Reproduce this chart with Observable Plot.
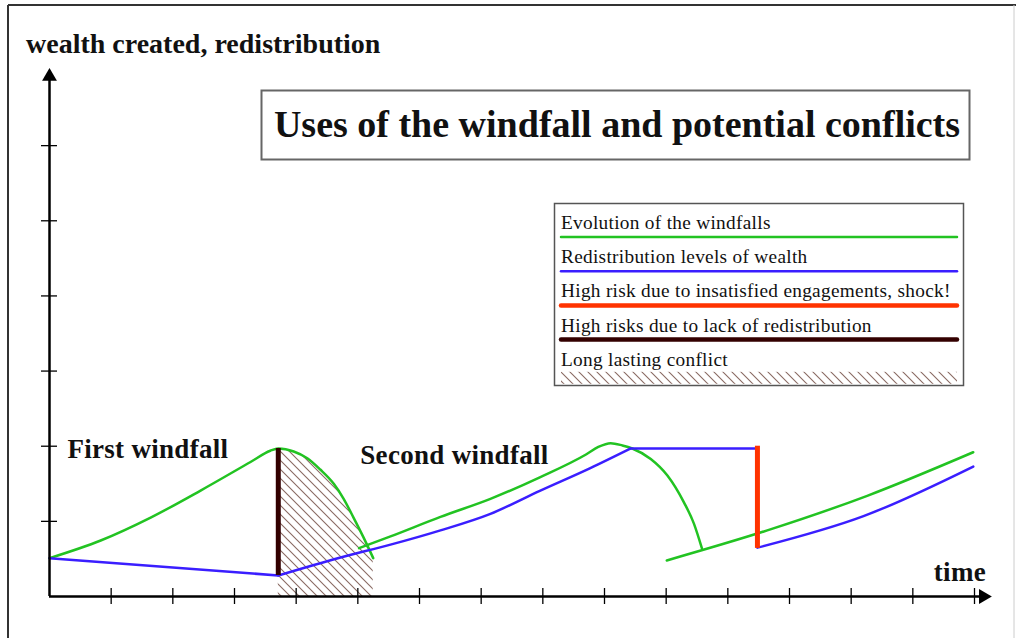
<!DOCTYPE html>
<html>
<head>
<meta charset="utf-8">
<script src="https://cdn.jsdelivr.net/npm/d3@7"></script>
<script src="https://cdn.jsdelivr.net/npm/@observablehq/plot@0.6"></script>
<style>
  body { margin: 0; background: #fff; }
  #wrap { position: relative; width: 1016px; height: 638px; overflow: hidden; background: #fff; }
  #wrap svg { position: absolute; left: 0; top: 0; }
  #overlay { pointer-events: none; }
</style>
</head>
<body>
<div id="wrap"></div>
<script>
// ---------- data (x: time ticks, y: wealth ticks) ----------
const xTicks = [1, 2, 3, 4, 5, 6, 7, 8, 9, 10, 11, 12, 13, 14, 15];
const yTicks = [1, 2, 3, 4, 5, 6];

// evolution of the windfalls (green), three pieces
const greenFirst = [[0,0.51],[0.83,0.745],[1.64,1.05],[2.45,1.41],[3.26,1.79],[3.58,1.94],[3.71,1.97],[3.96,1.93],[4.18,1.84],[4.39,1.69],[4.61,1.50],[4.77,1.30],[4.93,1.05],[5.09,0.79],[5.25,0.51]];
const greenSecond = [[5.02,0.643],[5.53,0.80],[6.34,1.06],[7.15,1.30],[7.96,1.59],[8.70,1.89],[8.90,1.99],[9.10,2.04],[9.29,2.01],[9.45,1.97],[9.75,1.83],[10.02,1.61],[10.29,1.25],[10.45,0.97],[10.58,0.64]];
const greenThird = [[10.01,0.48],[11.64,0.88],[13.26,1.34],[14.98,1.92]];

// redistribution levels of wealth (blue)
const blueFirst = [[0,0.51],[3.71,0.28]];
const blueSecond = [[3.71,0.28],[4.72,0.52],[5.53,0.69],[6.34,0.88],[7.15,1.10],[7.96,1.41],[8.77,1.71],[9.42,1.97]];
const blueHold = [[9.42,1.97],[11.48,1.97]];
const blueThird = [[11.48,0.65],[13.2,1.07],[14.98,1.73]];

// risk markers
const lackOfRedistribution = [{x: 3.71, y1: 0.28, y2: 1.97}];
const shock = [{x: 11.48, y1: 0.64, y2: 2.0}];

// long lasting conflict: hatched zone under the falling windfall
const conflictStart = 3.71;

const annotations = [
  {text: "First windfall", x: 0.29, y: 1.84},
  {text: "Second windfall", x: 5.04, y: 1.76},
  {text: "time", x: 14.34, y: 0.21}
];

const legendItems = [
  {label: "Evolution of the windfalls", kind: "line", color: "#22c322", width: 2.5},
  {label: "Redistribution levels of wealth", kind: "line", color: "#3a1eff", width: 2.5},
  {label: "High risk due to insatisfied engagements, shock!", kind: "line", color: "#ff3300", width: 4.5},
  {label: "High risks due to lack of redistribution", kind: "line", color: "#330000", width: 4.5},
  {label: "Long lasting conflict", kind: "hatch"}
];

const titleText = "Uses of the windfall and potential conflicts";
const yLabelText = "wealth created, redistribution";

// ---------- build tables ----------
const toRows = (pts, seg) => pts.map(([x, y]) => ({x, y, seg}));
const green = [...toRows(greenFirst, "g1"), ...toRows(greenSecond, "g2"), ...toRows(greenThird, "g3")];
const blueCurves = [...toRows(blueSecond, "b2"), ...toRows(blueThird, "b3")];
const blueStraight = [...toRows(blueFirst, "b1"), ...toRows(blueHold, "bh")];
const hatch = toRows(greenFirst.filter(([x]) => x >= conflictStart), "h");

const GREEN = legendItems[0].color, BLUE = legendItems[1].color, RED = legendItems[2].color, DARK = legendItems[3].color;
const FONT = "'Liberation Serif', 'Times New Roman', serif";

const chart = Plot.plot({
  width: 1016,
  height: 638,
  marginLeft: 49,
  marginRight: 42,
  marginTop: 70,
  marginBottom: 42,
  style: {fontFamily: FONT, overflow: "visible", background: "transparent"},
  x: {domain: [0, 15], axis: null},
  y: {domain: [0, 7], axis: null},
  marks: [
    Plot.areaY(hatch, {x: "x", y: "y", fill: "url(#hatch)", curve: "monotone-x"}),
    Plot.line(green, {x: "x", y: "y", z: "seg", stroke: GREEN, strokeWidth: 2.5, curve: "monotone-x"}),
    Plot.line(blueCurves, {x: "x", y: "y", z: "seg", stroke: BLUE, strokeWidth: 2.5, curve: "monotone-x"}),
    Plot.line(blueStraight, {x: "x", y: "y", z: "seg", stroke: BLUE, strokeWidth: 2.5, curve: "linear"}),
    Plot.ruleX(lackOfRedistribution, {x: "x", y1: "y1", y2: "y2", stroke: DARK, strokeWidth: 5}),
    Plot.ruleX(shock, {x: "x", y1: "y1", y2: "y2", stroke: RED, strokeWidth: 5}),
    // axes
    Plot.ruleX([0], {y1: 0, y2: 6.9, stroke: "#000", strokeWidth: 2.5}),
    Plot.ruleY([0], {x1: 0, x2: 15.15, stroke: "#000", strokeWidth: 2.5}),
    Plot.ruleX(xTicks, {x: d => d, y1: 0, y2: 0, insetTop: -8, insetBottom: -8, stroke: "#000", strokeWidth: 1.3}),
    Plot.ruleY(yTicks, {y: d => d, x1: 0, x2: 0, insetLeft: -8, insetRight: -8, stroke: "#000", strokeWidth: 1.3}),
    Plot.dot([{x: 0, y: 7}], {x: "x", y: "y", symbol: "triangle", r: 5.5, fill: "#000", stroke: null, dy: 6, rotate: 0}),
    Plot.dot([{x: 15.24, y: 0}], {x: "x", y: "y", symbol: "triangle", r: 5.5, fill: "#000", stroke: null, dx: -6, rotate: 90}),
    Plot.text(annotations, {x: "x", y: "y", text: "text", textAnchor: "start", lineAnchor: "bottom", fontSize: 27, fontWeight: "bold", fill: "#111", fontFamily: FONT})
  ]
});
document.getElementById("wrap").appendChild(chart);
d3.select(chart).selectAll("text").attr("letter-spacing", 0.3);

// hatch pattern for the conflict zone
function addHatch(svgSel, id) {
  const p = svgSel.insert("defs", ":first-child").append("pattern")
    .attr("id", id).attr("patternUnits", "userSpaceOnUse")
    .attr("width", 9).attr("height", 9);
  p.append("path").attr("d", "M-2,-2L11,11M-2,7L2,11M7,-2L11,2")
    .attr("stroke", "#8a6a62").attr("stroke-width", 1.1).attr("fill", "none");
}
addHatch(d3.select(chart), "hatch");

// ---------- overlay: frame, title box, axis label, legend ----------
const ov = d3.select("#wrap").append("svg").attr("id", "overlay")
  .attr("width", 1016).attr("height", 638).style("font-family", FONT);
addHatch(ov, "hatchLegend");

ov.append("line").attr("x1", 8).attr("y1", 5).attr("x2", 8).attr("y2", 640).attr("stroke", "#333").attr("stroke-width", 2);
ov.append("line").attr("x1", 8).attr("y1", 5).attr("x2", 1016).attr("y2", 5).attr("stroke", "#333").attr("stroke-width", 2);
ov.append("line").attr("x1", 1014).attr("y1", 5).attr("x2", 1014).attr("y2", 640).attr("stroke", "#ccc").attr("stroke-width", 1);

ov.append("text").attr("x", 26).attr("y", 53).attr("font-size", 28).attr("font-weight", "bold").attr("fill", "#111").text(yLabelText);

ov.append("rect").attr("x", 261.5).attr("y", 90.5).attr("width", 708).attr("height", 69)
  .attr("fill", "#fff").attr("stroke", "#666").attr("stroke-width", 2);
ov.append("text").attr("x", 617).attr("y", 137).attr("text-anchor", "middle")
  .attr("font-size", 38).attr("font-weight", "bold").attr("fill", "#111").text(titleText);

const lg = ov.append("g").attr("transform", "translate(554,203)");
lg.append("rect").attr("x", 0.5).attr("y", 0.5).attr("width", 409).attr("height", 182)
  .attr("fill", "#fff").attr("stroke", "#555").attr("stroke-width", 1.5);
legendItems.forEach((it, i) => {
  const base = 26 + i * 34.2;
  lg.append("text").attr("x", 7).attr("y", base).attr("font-size", 19.3)
    .attr("letter-spacing", 0.3).attr("fill", "#111").text(it.label);
  if (it.kind === "line") {
    lg.append("line").attr("x1", 7).attr("x2", 403).attr("y1", base + 8).attr("y2", base + 8)
      .attr("stroke", it.color).attr("stroke-width", it.width).attr("stroke-linecap", "round");
  } else {
    lg.append("rect").attr("x", 7).attr("y", base + 6).attr("width", 396).attr("height", 12)
      .attr("fill", "url(#hatchLegend)");
  }
});
</script>
</body>
</html>
